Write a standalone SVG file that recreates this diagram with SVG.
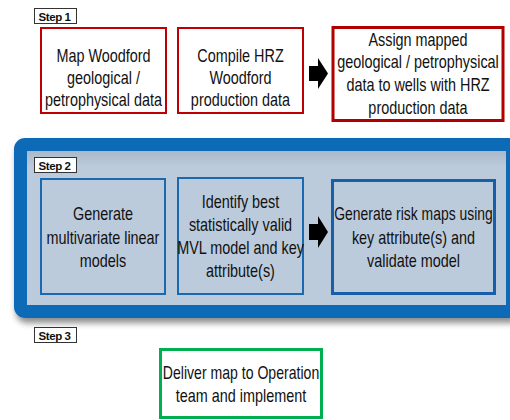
<svg xmlns="http://www.w3.org/2000/svg" width="510" height="420" viewBox="0 0 510 420">
<style>
.t{font-family:"Liberation Sans",Arial,sans-serif;font-size:16px;fill:#111;text-anchor:middle}
.lbl{font-family:"Liberation Sans",Arial,sans-serif;font-size:11.5px;font-weight:bold;fill:#111;letter-spacing:-0.4px}
.lb{fill:#fff;stroke:#333;stroke-width:1}
.red{fill:#fff;stroke:#c00000;stroke-width:2}
.red3{fill:#fff;stroke:#b00000;stroke-width:3}
.blu{fill:#bccbdc;stroke:#1a68b0;stroke-width:2}
.blu3{fill:#bccbdc;stroke:#175fa8;stroke-width:3}
.grn{fill:#fff;stroke:#00b050;stroke-width:3}
.arr{fill:#000}
</style>
<defs>
<filter id="sh" x="-5%" y="-10%" width="115%" height="130%">
<feDropShadow dx="2" dy="5" stdDeviation="3" flood-color="#000" flood-opacity="0.45"/>
</filter>
<linearGradient id="ig" x1="0" y1="0" x2="0" y2="1">
<stop offset="0" stop-color="#a9b9c9"/>
<stop offset="0.1" stop-color="#bccbdc"/>
<stop offset="1" stop-color="#bccbdc"/>
</linearGradient>
</defs>
<rect width="510" height="420" fill="#fff"/>

<g id="step1">
<g id="step1-label"><rect class="lb" x="34.5" y="8.5" width="42" height="15"/><text class="lbl" x="38.5" y="20.5">Step 1</text></g>
<g id="n1"><rect class="red" x="41" y="28" width="125" height="85"/>
<text class="t" transform="translate(103.5 62) scale(0.9 1.15)">Map Woodford</text>
<text class="t" transform="translate(103.5 84) scale(0.9 1.15)">geological /</text>
<text class="t" transform="translate(103.5 106) scale(0.9 1.15)">petrophysical data</text></g>
<g id="n2"><rect class="red" x="178" y="28" width="125" height="85"/>
<text class="t" transform="translate(240.5 62) scale(0.9 1.15)">Compile HRZ</text>
<text class="t" transform="translate(240.5 84) scale(0.9 1.15)">Woodford</text>
<text class="t" transform="translate(240.5 106) scale(0.9 1.15)">production data</text></g>
<g id="n3"><rect class="red3" x="333" y="27.5" width="170" height="93"/>
<text class="t" transform="translate(418 45.5) scale(0.9 1.15)">Assign mapped</text>
<text class="t" transform="translate(418 67.5) scale(0.9 1.15)">geological / petrophysical</text>
<text class="t" transform="translate(418 90.5) scale(0.9 1.15)">data to wells with HRZ</text>
<text class="t" transform="translate(418 113.5) scale(0.9 1.15)">production data</text></g>
</g>

<g id="step2">
<g id="frame"><rect x="14" y="138" width="506" height="180" rx="11" fill="#0d6bb6" filter="url(#sh)"/>
<rect x="27" y="151" width="479" height="154" fill="url(#ig)"/></g>
<g id="step2-label"><rect class="lb" x="34.5" y="157.5" width="42" height="15"/><text class="lbl" x="38.5" y="169.5">Step 2</text></g>
<g id="n4"><rect class="blu" x="41" y="179" width="124" height="115"/>
<text class="t" transform="translate(103 219.5) scale(0.9 1.15)">Generate</text>
<text class="t" transform="translate(103 243.5) scale(0.9 1.15)">multivariate linear</text>
<text class="t" transform="translate(103 266.5) scale(0.9 1.15)">models</text></g>
<g id="n5"><rect class="blu" x="178" y="178" width="125" height="116"/>
<text class="t" transform="translate(240.5 207.5) scale(0.9 1.15)">Identify best</text>
<text class="t" transform="translate(240.5 230.5) scale(0.9 1.15)">statistically valid</text>
<text class="t" transform="translate(240.5 253.5) scale(0.9 1.15)">MVL model and key</text>
<text class="t" transform="translate(240.5 276.5) scale(0.9 1.15)">attribute(s)</text></g>
<g id="n6"><rect class="blu3" x="332.5" y="180.5" width="162" height="113"/>
<text class="t" transform="translate(413.5 219.5) scale(0.87 1.15)">Generate risk maps using</text>
<text class="t" transform="translate(413.5 243.5) scale(0.9 1.15)">key attribute(s) and</text>
<text class="t" transform="translate(413.5 266.5) scale(0.9 1.15)">validate model</text></g>
</g>

<g id="step3">
<g id="step3-label"><rect class="lb" x="34.5" y="327.5" width="42" height="15"/><text class="lbl" x="38.5" y="339.5">Step 3</text></g>
<g id="n7"><rect class="grn" x="160.5" y="349.5" width="161" height="68"/>
<text class="t" transform="translate(241 378.5) scale(0.88 1.15)">Deliver map to Operation</text>
<text class="t" transform="translate(241 401.5) scale(0.9 1.15)">team and implement</text></g>
</g>

<g id="connectors">
<polygon class="arr" points="309,66 318,66 318,58 328,73.5 318,89 318,81 309,81"/>
<polygon class="arr" points="309,224 318,224 318,216 328,232 318,248 318,240 309,240" fill="#0a1628"/>
</g>
</svg>
